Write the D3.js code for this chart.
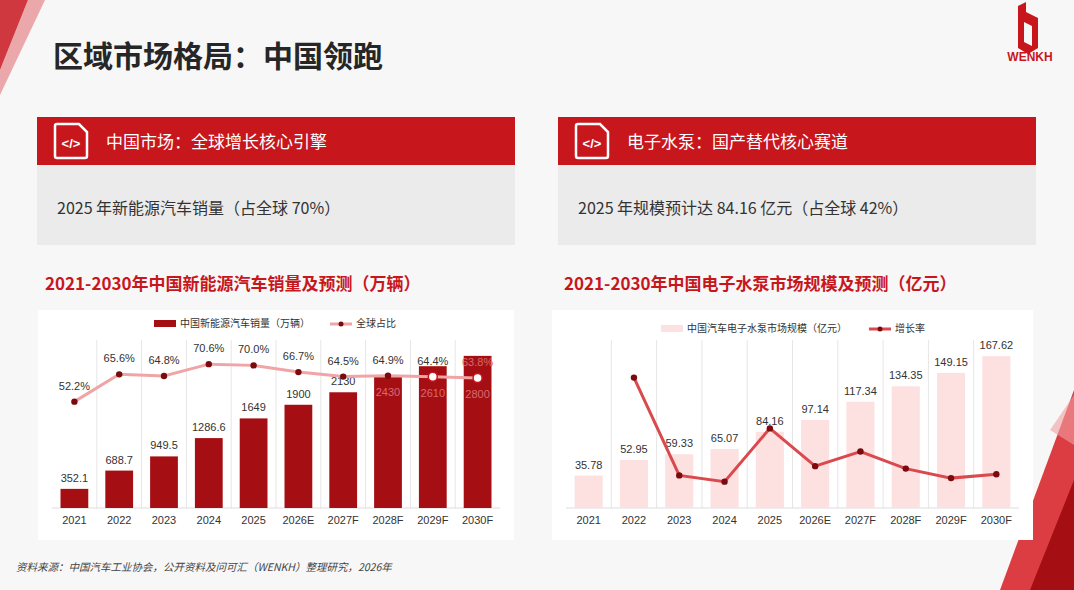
<!DOCTYPE html>
<html lang="zh">
<head>
<meta charset="UTF-8">
<script src="https://d3js.org/d3.v7.min.js"></script>
<style>
  body { margin: 0; background: #f7f7f7; font-family: "Noto Sans CJK SC", "Noto Sans", sans-serif; }
  svg text { font-family: "Noto Sans CJK SC", "Noto Sans", sans-serif; }
  .num { font-family: "Liberation Sans", Arial, sans-serif; }
</style>
</head>
<body>
<svg id="page" width="1074" height="590"></svg>
<script>
// chart 1: China NEV sales (10k units) and global share
const years = ["2021","2022","2023","2024","2025","2026E","2027F","2028F","2029F","2030F"];
const nevSales = [352.1, 688.7, 949.5, 1286.6, 1649, 1900, 2130, 2430, 2610, 2800];
const nevShare = [52.2, 65.6, 64.8, 70.6, 70.0, 66.7, 64.5, 64.9, 64.4, 63.8];
// chart 2: e-water pump market (100M yuan) and growth rate
const pumpSize = [35.78, 52.95, 59.33, 65.07, 84.16, 97.14, 117.34, 134.35, 149.15, 167.62];
const pumpGrowth = [null, 48.0, 12.0, 9.7, 29.3, 15.4, 20.8, 14.5, 11.0, 12.4];

const svg = d3.select("#page");

// background decorations
svg.append("rect").attr("width", 1074).attr("height", 590).attr("fill", "#f7f7f7");
svg.append("polygon").attr("points", "0,0 28,0 0,70").attr("fill", "#c8161d").attr("opacity", 0.85);
svg.append("polygon").attr("points", "28,0 45,0 0,95 0,70").attr("fill", "#e05a5e").attr("opacity", 0.5);
svg.append("polygon").attr("points", "1074,390 1074,590 1000,590").attr("fill", "#d8282e").attr("opacity", 0.9);
svg.append("polygon").attr("points", "1074,480 1074,590 1030,590").attr("fill", "#a50f14");
svg.append("polygon").attr("points", "1050,430 1074,395 1074,445").attr("fill", "#f0a0a2").attr("opacity", 0.6);

// title
svg.append("text").attr("x", 53).attr("y", 67).attr("font-size", 30).attr("font-weight", 700)
  .attr("fill", "#262626").text("区域市场格局：中国领跑");

// logo
const logo = svg.append("g").attr("transform", "translate(1018,2)");
logo.append("path").attr("d", "M0,4 L8,0 L8,10 L20,16 L20,46 L10,52 L0,46 Z M6,20 L6,40 L14,44 L14,24 Z")
  .attr("fill", "#c8161d").attr("fill-rule", "evenodd");
svg.append("text").attr("x", 1030).attr("y", 61).attr("text-anchor", "middle").attr("font-size", 12)
  .attr("font-weight", 700).attr("fill", "#c8161d").attr("class", "num").text("WENKH");

// panels
function panel(x, head, body) {
  svg.append("rect").attr("x", x).attr("y", 117).attr("width", 478).attr("height", 48).attr("fill", "#c8161d");
  const ic = svg.append("g").attr("transform", `translate(${x + 18},${124})`);
  ic.append("path").attr("d", "M2,0 H24 L32,8 V32 Q32,34 30,34 H2 Q0,34 0,32 V2 Q0,0 2,0 Z")
    .attr("fill", "none").attr("stroke", "#fff").attr("stroke-width", 2.5);
  ic.append("text").attr("x", 16).attr("y", 24).attr("text-anchor", "middle").attr("font-size", 13)
    .attr("font-weight", 700).attr("fill", "#fff").attr("class", "num").text("</>");
  svg.append("text").attr("x", x + 69).attr("y", 148).attr("font-size", 17).attr("fill", "#fff").text(head);
  svg.append("rect").attr("x", x).attr("y", 165).attr("width", 478).attr("height", 80).attr("fill", "#ebebeb");
  svg.append("text").attr("x", x + 20).attr("y", 214).attr("font-size", 16).attr("fill", "#333").text(body);
}
panel(37, "中国市场：全球增长核心引擎", "2025 年新能源汽车销量（占全球 70%）");
panel(558, "电子水泵：国产替代核心赛道", "2025 年规模预计达 84.16 亿元（占全球 42%）");

// chart titles
svg.append("text").attr("x", 45).attr("y", 290).attr("font-size", 17).attr("font-weight", 700)
  .attr("fill", "#c8161d").text("2021-2030年中国新能源汽车销量及预测（万辆）");
svg.append("text").attr("x", 564).attr("y", 290).attr("font-size", 17).attr("font-weight", 700)
  .attr("fill", "#c8161d").text("2021-2030年中国电子水泵市场规模及预测（亿元）");

function chart(o) {
  const g = svg.append("g");
  g.append("rect").attr("x", o.x0 - 14).attr("y", 310).attr("width", o.x1 - o.x0 + 28).attr("height", 230)
    .attr("fill", "#fff");
  const top = 345, base = 508;
  const x = d3.scaleBand().domain(years).range([o.x0, o.x1]).paddingInner(0.38).paddingOuter(0.19);
  const step = x.step();
  const cx = i => x(years[i]) + x.bandwidth() / 2;
  const yb = d3.scaleLinear().domain(o.barDomain).range([base, top]);
  const yl = d3.scaleLinear().domain(o.lineDomain).range([base, top]);
  // grid
  years.forEach((d, i) => {
    if (i === 0) return;
    const gx = x(d) - step * x.paddingInner() / 2;
    g.append("line").attr("x1", gx).attr("x2", gx).attr("y1", top - 5).attr("y2", base)
      .attr("stroke", "#e6e6e6");
  });
  g.append("line").attr("x1", o.x0).attr("x2", o.x1).attr("y1", base).attr("y2", base).attr("stroke", "#ddd");
  // bars
  g.selectAll(".bar").data(o.bars).enter().append("rect")
    .attr("x", (d, i) => x(years[i])).attr("width", x.bandwidth())
    .attr("y", d => yb(d)).attr("height", d => base - yb(d)).attr("fill", o.barColor);
  // bar labels: inside the bar when the bar reaches the line
  const inside = (d, i) => o.line[i] != null && o.lineLabels && yb(d) < yl(o.line[i]) + 4;
  g.selectAll(".bl").data(o.bars).enter().append("text").attr("class", "num")
    .attr("x", (d, i) => cx(i))
    .attr("y", (d, i) => inside(d, i) ? yl(o.line[i]) + 20 : yb(d) - 7)
    .attr("text-anchor", "middle").attr("font-size", 11)
    .attr("fill", (d, i) => inside(d, i) ? "#d86a6e" : "#333").text(o.barFmt);
  // x labels
  g.selectAll(".xl").data(years).enter().append("text").attr("class", "num")
    .attr("x", d => x(d) + x.bandwidth() / 2).attr("y", 524).attr("text-anchor", "middle")
    .attr("font-size", 11).attr("fill", "#333").text(d => d);
  // line
  const pts = o.line.map((v, i) => ({ v, i })).filter(p => p.v != null);
  const line = d3.line().x(p => cx(p.i)).y(p => yl(p.v));
  g.append("path").attr("d", line(pts)).attr("fill", "none").attr("stroke", o.lineColor).attr("stroke-width", 3);
  g.selectAll(".pt").data(pts).enter().append("circle")
    .attr("cx", p => cx(p.i)).attr("cy", p => yl(p.v))
    .attr("r", p => o.lineLabels && p.i >= 8 ? 4.5 : 3.2)
    .attr("fill", p => o.lineLabels && p.i >= 8 ? "#fff" : "#7a0a0e")
    .attr("stroke", p => o.lineLabels && p.i >= 8 ? "#c8161d" : "none").attr("stroke-width", 1.5);
  if (o.lineLabels) {
    g.selectAll(".ll").data(pts).enter().append("text").attr("class", "num")
      .attr("x", p => cx(p.i)).attr("y", p => yl(p.v) - 12)
      .attr("text-anchor", "middle").attr("font-size", 11)
      .attr("fill", p => yb(o.bars[p.i]) < yl(p.v) - 20 ? "#d86a6e" : "#333")
      .text(p => p.v.toFixed(1) + "%");
  }
  // legend
  const lg = g.append("g").attr("transform", `translate(${o.legX},${o.legY})`);
  lg.append("rect").attr("x", 0).attr("y", -4).attr("width", 22).attr("height", 7).attr("fill", o.barColor);
  lg.append("text").attr("x", 26).attr("y", 3).attr("font-size", 10).attr("fill", "#333").text(o.barName);
  const lx = o.legX2 - o.legX;
  lg.append("line").attr("x1", lx).attr("x2", lx + 22).attr("y1", 0).attr("y2", 0)
    .attr("stroke", o.lineColor).attr("stroke-width", 3);
  lg.append("circle").attr("cx", lx + 11).attr("cy", 0).attr("r", 2.5).attr("fill", "#7a0a0e");
  lg.append("text").attr("x", lx + 26).attr("y", 3).attr("font-size", 10).attr("fill", "#333").text(o.lineName);
}

chart({
  x0: 52, x1: 500, bars: nevSales, barDomain: [0, 3000], barColor: "#a50f14",
  barFmt: d => d, line: nevShare, lineDomain: [0, 80], lineColor: "#f0a4a6", lineLabels: true,
  barName: "中国新能源汽车销量（万辆）", lineName: "全球占比", legX: 154, legX2: 330, legY: 324
});
chart({
  x0: 566, x1: 1019, bars: pumpSize, barDomain: [0, 180], barColor: "#fde0e0",
  barFmt: d => d.toFixed(2), line: pumpGrowth, lineDomain: [0, 60], lineColor: "#d9494d", lineLabels: false,
  barName: "中国汽车电子水泵市场规模（亿元）", lineName: "增长率", legX: 661, legX2: 869, legY: 329
});

// source
svg.append("text").attr("x", 16).attr("y", 571).attr("font-size", 10.5).attr("font-style", "italic")
  .attr("fill", "#444").text("资料来源：中国汽车工业协会，公开资料及问可汇（WENKH）整理研究，2026年");
</script>
</body>
</html>
